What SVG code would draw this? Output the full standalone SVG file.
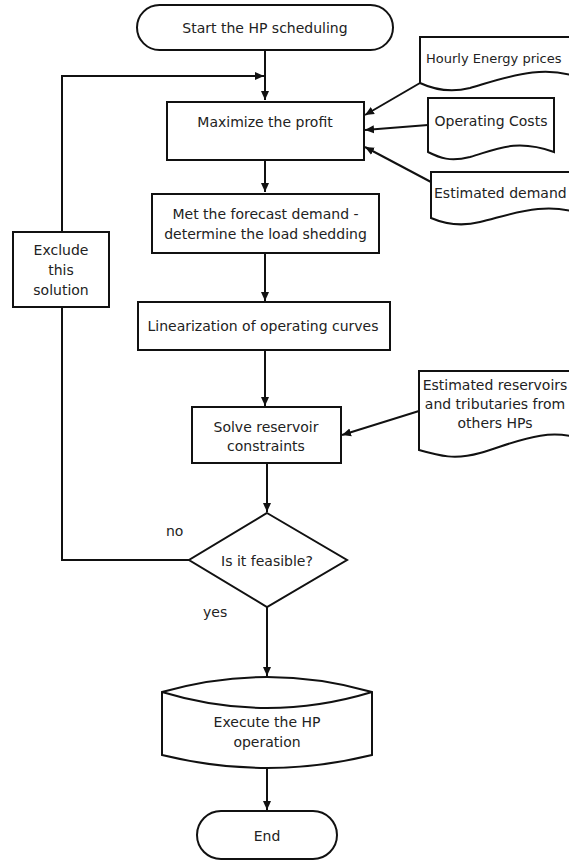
<svg xmlns="http://www.w3.org/2000/svg" width="569" height="861" viewBox="0 0 569 861">
<style>
.s{fill:#fff;stroke:#111;stroke-width:2}
.c{fill:none;stroke:#111;stroke-width:2}
text{font-family:"DejaVu Sans",Verdana,sans-serif;font-size:14px;fill:#222;dominant-baseline:central}
.m{text-anchor:middle}
</style>
<defs>
<marker id="a" markerWidth="10" markerHeight="10" refX="9" refY="5" orient="auto" markerUnits="userSpaceOnUse">
<path d="M0,1 L9,5 L0,9 Z" fill="#111"/>
</marker>
</defs>
<rect width="569" height="861" fill="#fff"/>
<g id="connectors">
<path class="c" d="M265,50 V100" marker-end="url(#a)"/>
<path class="c" d="M62,232 V76 H264" marker-end="url(#a)"/>
<path class="c" d="M265,160 V192" marker-end="url(#a)"/>
<path class="c" d="M265,253 V301" marker-end="url(#a)"/>
<path class="c" d="M265,350 V406" marker-end="url(#a)"/>
<path class="c" d="M267,463 V512" marker-end="url(#a)"/>
<path class="c" d="M189,560 H62 V307"/>
<path class="c" d="M267,607 V676" marker-end="url(#a)"/>
<path class="c" d="M267,768 V810" marker-end="url(#a)"/>
<path class="c" d="M420,83 L365,115" marker-end="url(#a)"/>
<path class="c" d="M428,125 L365,130" marker-end="url(#a)"/>
<path class="c" d="M431,182 L365,147" marker-end="url(#a)"/>
<path class="c" d="M419,411 L342,435" marker-end="url(#a)"/>
</g>
<g id="start">
<rect class="s" x="137" y="5" width="256" height="45" rx="22.5"/>
<text class="m" x="265" y="28">Start the HP scheduling</text>
</g>
<g id="hourly">
<path class="s" d="M420,37 H585 V80 C545,62 505,78 470,88 C450,93 435,90 420,83 Z"/>
<text x="426" y="58" style="font-size:13px">Hourly Energy prices</text>
</g>
<g id="costs">
<path class="s" d="M428,98 H554 V152 C515,138 495,150 470,157 C450,162 440,158 428,152 Z"/>
<text class="m" x="491" y="121">Operating Costs</text>
</g>
<g id="demand">
<path class="s" d="M431,172 H585 V215 C545,200 510,215 480,222 C460,227 445,224 431,218 Z"/>
<text x="434" y="193">Estimated demand</text>
</g>
<g id="maximize">
<rect class="s" x="167" y="102" width="197" height="58"/>
<text class="m" x="265" y="122">Maximize the profit</text>
</g>
<g id="met">
<rect class="s" x="152" y="194" width="227" height="59"/>
<text class="m" x="265.5" y="214">Met the forecast demand -</text>
<text class="m" x="265.5" y="234">determine the load shedding</text>
</g>
<g id="exclude">
<rect class="s" x="13" y="232" width="96" height="75"/>
<text class="m" x="61" y="250">Exclude</text>
<text class="m" x="61" y="270">this</text>
<text class="m" x="61" y="290">solution</text>
</g>
<g id="linearization">
<rect class="s" x="138" y="302" width="252" height="48"/>
<text class="m" x="263" y="326">Linearization of operating curves</text>
</g>
<g id="reservoirs">
<path class="s" d="M419,371 H585 V440 C545,425 510,445 480,453 C455,460 440,456 419,450 Z"/>
<text class="m" x="495" y="385">Estimated reservoirs</text>
<text class="m" x="495" y="404">and tributaries from</text>
<text class="m" x="495" y="423">others HPs</text>
</g>
<g id="solve">
<rect class="s" x="192" y="407" width="149" height="56"/>
<text class="m" x="266" y="427">Solve reservoir</text>
<text class="m" x="266" y="446">constraints</text>
</g>
<g id="feasible">
<path class="s" d="M267,513 L347,560 L267,607 L189,560 Z"/>
<text class="m" x="267" y="561">Is it feasible?</text>
<text x="166" y="531">no</text>
<text x="203" y="612">yes</text>
</g>
<g id="execute">
<path class="s" d="M162,692 Q267,662 372,692 V755 Q267,781 162,755 Z"/>
<path class="c" d="M162,692 Q267,724 372,692"/>
<text class="m" x="267" y="722">Execute the HP</text>
<text class="m" x="267" y="742">operation</text>
</g>
<g id="end">
<rect class="s" x="197" y="811" width="140" height="48" rx="24"/>
<text class="m" x="267" y="836">End</text>
</g>
</svg>
